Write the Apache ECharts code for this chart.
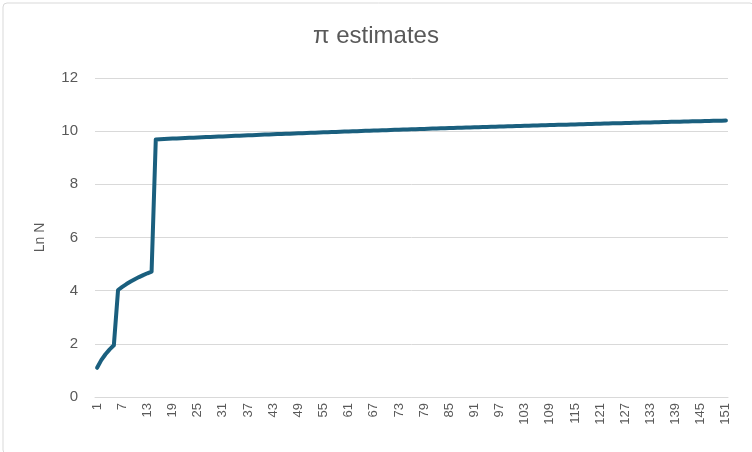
<!DOCTYPE html>
<html><head><meta charset="utf-8">
<script src="https://cdn.jsdelivr.net/npm/echarts@6/dist/echarts.min.js"></script>
<style>html,body{margin:0;padding:0;background:#fff}#c{width:752px;height:452px}</style>
</head><body><div id="c"></div>
<script>
const categories = [];
for (let i = 1; i <= 151; i++) categories.push(String(i));
const lnN = [
1.099, 1.386, 1.609, 1.792, 1.946, 4.025, 4.143, 4.248, 4.344, 4.431, 4.511, 4.585, 4.654, 4.718,
9.690, 9.698, 9.705, 9.712, 9.720, 9.727, 9.734, 9.741, 9.749, 9.756,
9.763, 9.770, 9.777, 9.784, 9.791, 9.798, 9.804, 9.811, 9.818, 9.825,
9.832, 9.838, 9.845, 9.851, 9.857, 9.864, 9.870, 9.876, 9.882, 9.889,
9.895, 9.901, 9.907, 9.913, 9.919, 9.926, 9.932, 9.938, 9.944, 9.950,
9.956, 9.962, 9.967, 9.973, 9.978, 9.984, 9.990, 9.995, 10.001, 10.006,
10.012, 10.017, 10.023, 10.028, 10.034, 10.039, 10.044, 10.050, 10.055, 10.061,
10.066, 10.071, 10.076, 10.081, 10.086, 10.092, 10.097, 10.102, 10.107, 10.112,
10.117, 10.122, 10.127, 10.131, 10.136, 10.141, 10.146, 10.151, 10.155, 10.160,
10.165, 10.170, 10.174, 10.179, 10.183, 10.188, 10.193, 10.197, 10.202, 10.206,
10.211, 10.215, 10.220, 10.224, 10.229, 10.233, 10.237, 10.242, 10.246, 10.251,
10.255, 10.259, 10.264, 10.268, 10.272, 10.277, 10.281, 10.285, 10.289, 10.294,
10.298, 10.302, 10.306, 10.310, 10.314, 10.318, 10.322, 10.326, 10.330, 10.334,
10.338, 10.342, 10.346, 10.350, 10.354, 10.358, 10.362, 10.365, 10.369, 10.373,
10.377, 10.381, 10.385, 10.389, 10.392, 10.396, 10.400
];
const yTicks = [0, 2, 4, 6, 8, 10, 12];

const chart = echarts.init(document.getElementById('c'));
chart.setOption({
  animation: false,
  backgroundColor: '#fff',
  graphic: [{
    type: 'rect', left: 0.5, top: 0.5,
    shape: { width: 751, height: 451, r: 4 },
    style: { fill: 'none', stroke: '#d9d9d9', lineWidth: 1 }
  }],
  title: {
    text: 'π estimates', left: 'center', top: 19,
    textStyle: { fontFamily: 'Liberation Sans, Arial, sans-serif', fontSize: 24, fontWeight: 'normal', color: '#595959' }
  },
  grid: { left: 95, right: 24, top: 78, bottom: 55, containLabel: false },
  xAxis: {
    type: 'category', data: categories, boundaryGap: true,
    axisLine: { show: true, lineStyle: { color: '#d9d9d9' } },
    axisTick: { show: false },
    axisLabel: { interval: 5, rotate: 90, color: '#595959', fontSize: 13, fontFamily: 'Liberation Sans, Arial, sans-serif', margin: 6 },
    splitLine: { show: false }
  },
  yAxis: {
    type: 'value', min: yTicks[0], max: yTicks[yTicks.length - 1], interval: 2,
    name: 'Ln N', nameLocation: 'middle', nameGap: 48, nameRotate: 90,
    nameTextStyle: { color: '#595959', fontSize: 14, fontFamily: 'Liberation Sans, Arial, sans-serif' },
    axisLine: { show: false }, axisTick: { show: false },
    axisLabel: { color: '#595959', fontSize: 15, fontFamily: 'Liberation Sans, Arial, sans-serif', margin: 17 },
    splitLine: { lineStyle: { color: '#d9d9d9', width: 1 } }
  },
  series: [{
    type: 'line', data: lnN, showSymbol: false, symbol: 'none',
    lineStyle: { color: '#1a5f7e', width: 4, cap: 'round', join: 'round' }
  }]
});
</script></body></html>
